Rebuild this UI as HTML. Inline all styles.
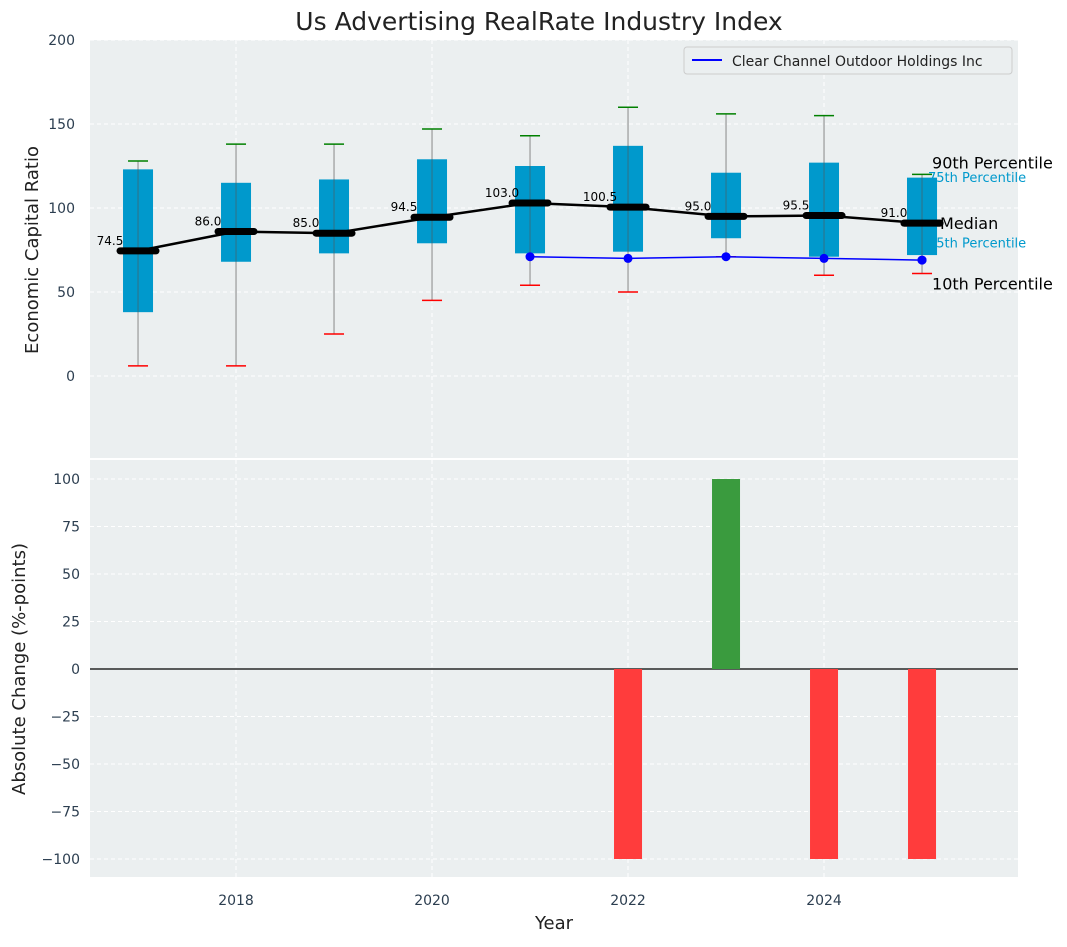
<!DOCTYPE html>
<html><head><meta charset="utf-8"><style>
body{margin:0;background:#fff;font-family:"Liberation Sans","DejaVu Sans",sans-serif}
svg text{font-family:"DejaVu Sans","Liberation Sans",sans-serif}
</style></head><body>
<svg id="chart" width="1067" height="942" xmlns="http://www.w3.org/2000/svg">
<rect width="1067" height="942" fill="#fff"/>
<text x="539" y="30" font-size="25" text-anchor="middle" fill="#222">Us Advertising RealRate Industry Index</text>
<rect x="90" y="40" width="928" height="418" fill="#ebeff0"/>
<rect x="90" y="460" width="928" height="417" fill="#ebeff0"/>
<g id="gtop"></g><g id="gbot"></g>
<text x="38" y="250" font-size="18" fill="#222" text-anchor="middle" transform="rotate(-90 38 250)">Economic Capital Ratio</text>
<text x="25" y="669" font-size="18" fill="#222" text-anchor="middle" transform="rotate(-90 25 669)">Absolute Change (%-points)</text>
<text x="554" y="929" font-size="18" fill="#222" text-anchor="middle">Year</text>
<g>
<rect x="684" y="47" width="328" height="27" rx="3" fill="#ebeff0" stroke="#ccc"/>
<line x1="692" y1="60" x2="722" y2="60" stroke="blue" stroke-width="2"/>
<text x="732" y="66" font-size="14" fill="#222">Clear Channel Outdoor Holdings Inc</text>
</g>
</svg>
<script>
const years=[2017,2018,2019,2020,2021,2022,2023,2024,2025];
const p10=[6,6,25,45,54,50,71,60,61];
const p25=[38,68,73,79,73,74,82,71,72];
const med=[74.5,86,85,94.5,103,100.5,95,95.5,91];
const p75=[123,115,117,129,125,137,121,127,118];
const p90=[128,138,138,147,143,160,156,155,120];
const coYears=[2021,2022,2023,2024,2025];
const coVals=[71,70,71,70,69];
const chgYears=[2022,2023,2024,2025];
const chgVals=[-100,100,-100,-100];
const topTicks=[0,50,100,150,200];
const botTicks=[-100,-75,-50,-25,0,25,50,75,100];
const xTicks=[2018,2020,2022,2024];
const NS='http://www.w3.org/2000/svg';
const X=v=>90+(v-2016.51)*98;
const Y1=v=>376-v*1.68;
const Y2=v=>669-v*1.9;
function mk(p,t,a){const e=document.createElementNS(NS,t);for(const k in a)e.setAttribute(k,a[k]);p.appendChild(e);return e;}
const gTop=document.getElementById('gtop'),gBot=document.getElementById('gbot');
const fmt=t=>String(t).replace('-','\u2212');
topTicks.forEach(t=>{
 const l=mk(gTop,'line',{x1:90,x2:1018,y1:Y1(t),y2:Y1(t),stroke:'#fff','stroke-dasharray':'4,3'});
 
 const s=mk(gTop,'text',{x:75,y:Y1(t)+5,'font-size':14,fill:'#2c3e50','text-anchor':'end'});s.textContent=fmt(t);
 
});
botTicks.forEach(t=>{
 const l=mk(gBot,'line',{x1:90,x2:1018,y1:Y2(t),y2:Y2(t),stroke:'#fff','stroke-dasharray':'4,3'});
 
 const s=mk(gBot,'text',{x:80,y:Y2(t)+5,'font-size':14,fill:'#2c3e50','text-anchor':'end'});s.textContent=fmt(t);
 
});
xTicks.forEach(t=>{
 mk(gTop,'line',{x1:X(t),x2:X(t),y1:40,y2:458,stroke:'#fff','stroke-dasharray':'4,3'});
 mk(gBot,'line',{x1:X(t),x2:X(t),y1:460,y2:877,stroke:'#fff','stroke-dasharray':'4,3'});
 const s=mk(gBot,'text',{x:X(t),y:905,'font-size':14,fill:'#2c3e50','text-anchor':'middle'});s.textContent=t;
 
});
years.forEach((y,i)=>{
 const x=X(y);
 const w=mk(gTop,'line',{x1:x,x2:x,y1:Y1(p90[i]),y2:Y1(p10[i]),stroke:'#888','stroke-width':1});
 
 const b=mk(gTop,'rect',{x:x-15,y:Y1(p75[i]),width:30,height:Y1(p25[i])-Y1(p75[i]),fill:'#0099cc'});
 
 mk(gTop,'line',{x1:x,x2:x,y1:Y1(p75[i]),y2:Y1(p25[i]),stroke:'#555','stroke-width':1,opacity:0.6});
 const c1=mk(gTop,'line',{x1:x-10,x2:x+10,y1:Y1(p90[i]),y2:Y1(p90[i]),stroke:'green','stroke-width':1.5});
 
 const c2=mk(gTop,'line',{x1:x-10,x2:x+10,y1:Y1(p10[i]),y2:Y1(p10[i]),stroke:'red','stroke-width':1.5});
 
});
const ml=mk(gTop,'polyline',{points:years.map((y,i)=>X(y)+','+Y1(med[i])).join(' '),fill:'none',stroke:'#000','stroke-width':2.5});

years.forEach((y,i)=>{
 const m=mk(gTop,'line',{x1:X(y)-18,x2:X(y)+18,y1:Y1(med[i]),y2:Y1(med[i]),stroke:'#000','stroke-width':7,'stroke-linecap':'round'});
 
 const t=mk(gTop,'text',{x:X(y)-28,y:Y1(med[i])-6,'font-size':12,fill:'#000','text-anchor':'middle'});t.textContent=med[i].toFixed(1);
 
});
const cl=mk(gTop,'polyline',{points:coYears.map((y,i)=>X(y)+','+Y1(coVals[i])).join(' '),fill:'none',stroke:'blue','stroke-width':1.5});

coYears.forEach((y,i)=>{
 const d=mk(gTop,'circle',{cx:X(y),cy:Y1(coVals[i]),r:4.5,fill:'blue'});
 
});
const li=years.length-1,lx=X(years[li]);
[[p90[li]+7,'90th Percentile',16,'#000',10],[p75[li]+1,'75th Percentile',13,'#0099cc',6],[med[li],'Median',16,'#000',18],[p25[li]+8,'25th Percentile',13,'#0099cc',6],[p10[li]-6,'10th Percentile',16,'#000',10]].forEach(a=>{
 const t=mk(gTop,'text',{x:lx+a[4],y:Y1(a[0])+6,'font-size':a[2],fill:a[3]});t.textContent=a[1];
 
});
mk(gTop,'rect',{x:lx-15,y:Y1(p75[li]),width:30,height:Y1(p25[li])-Y1(p75[li]),fill:'#0099cc'});
mk(gTop,'line',{x1:lx,x2:lx,y1:Y1(p75[li]),y2:Y1(p25[li]),stroke:'#555','stroke-width':1,opacity:0.6});
mk(gTop,'line',{x1:lx-18,x2:lx+18,y1:Y1(med[li]),y2:Y1(med[li]),stroke:'#000','stroke-width':7,'stroke-linecap':'round'});
mk(gTop,'circle',{cx:X(coYears[coYears.length-1]),cy:Y1(coVals[coVals.length-1]),r:4.5,fill:'blue'});
mk(gBot,'line',{x1:90,x2:1018,y1:Y2(0),y2:Y2(0),stroke:'#000','stroke-width':1.2});
chgYears.forEach((y,i)=>{
 const v=chgVals[i];
 const r=mk(gBot,'rect',{x:X(y)-14,y:Math.min(Y2(v),Y2(0)),width:28,height:Math.abs(Y2(v)-Y2(0)),fill:v>=0?'#3a9b3e':'#ff3c3c'});
 
});
</script>
</body></html>
